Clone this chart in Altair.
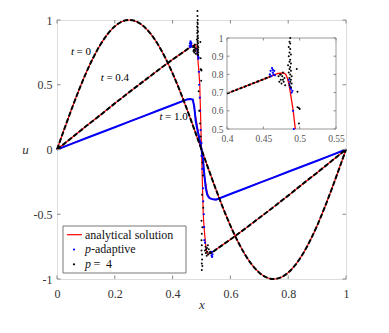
import altair as alt
import pandas as pd

FONT = "Liberation Serif, Times New Roman, serif"

# ---------------- data ----------------
# t = 0 (initial condition)
x_t0 = [0.0, 0.025, 0.05, 0.075, 0.1, 0.125, 0.15, 0.175, 0.2, 0.225, 0.25, 0.275, 0.3, 0.325,
        0.35, 0.375, 0.4, 0.425, 0.45, 0.475, 0.5, 0.525, 0.55, 0.575, 0.6, 0.625, 0.65, 0.675,
        0.7, 0.725, 0.75, 0.775, 0.8, 0.825, 0.85, 0.875, 0.9, 0.925, 0.95, 0.975, 1.0]
u_t0 = [0.0, 0.156, 0.309, 0.454, 0.588, 0.707, 0.809, 0.891, 0.951, 0.988, 1.0, 0.988, 0.951,
        0.891, 0.809, 0.707, 0.588, 0.454, 0.309, 0.156, 0.0, -0.156, -0.309, -0.454, -0.588,
        -0.707, -0.809, -0.891, -0.951, -0.988, -1.0, -0.988, -0.951, -0.891, -0.809, -0.707,
        -0.588, -0.454, -0.309, -0.156, 0.0]

# t = 0.4 analytical
x_t04 = [0.0, 0.05, 0.1, 0.15, 0.2, 0.25, 0.3, 0.35, 0.4, 0.45,
         0.47, 0.478, 0.481, 0.483, 0.485, 0.487, 0.489, 0.491, 0.494,
         0.5,
         0.506, 0.509, 0.511, 0.513, 0.515, 0.517, 0.519, 0.522, 0.53,
         0.55, 0.6, 0.65, 0.7, 0.75, 0.8, 0.85, 0.9, 0.95, 1.0]
u_t04 = [0.0, 0.089, 0.179, 0.266, 0.356, 0.443, 0.528, 0.613, 0.695, 0.773,
         0.805, 0.808, 0.80, 0.78, 0.75, 0.705, 0.655, 0.604, 0.50,
         0.0,
         -0.50, -0.604, -0.655, -0.705, -0.75, -0.78, -0.80, -0.808, -0.805,
         -0.773, -0.695, -0.613, -0.528, -0.443, -0.356, -0.266, -0.179, -0.089, 0.0]

# t = 0.4, p = 4 smooth parts
x_p4_left = [0.0, 0.05, 0.1, 0.15, 0.2, 0.25, 0.3, 0.35, 0.4, 0.45, 0.46]
u_p4_left = [0.0, 0.089, 0.179, 0.266, 0.356, 0.443, 0.528, 0.613, 0.695, 0.773, 0.79]
x_p4_right = [0.54, 0.55, 0.6, 0.65, 0.7, 0.75, 0.8, 0.85, 0.9, 0.95, 1.0]
u_p4_right = [-0.79, -0.773, -0.695, -0.613, -0.528, -0.443, -0.356, -0.266, -0.179, -0.089, 0.0]

# t = 1.0 analytical
x_t10 = [0.0, 0.05, 0.1, 0.15, 0.2, 0.25, 0.3, 0.35, 0.4, 0.45,
         0.46, 0.47, 0.48, 0.49, 0.5, 0.51, 0.52, 0.53, 0.54,
         0.55, 0.6, 0.65, 0.7, 0.75, 0.8, 0.85, 0.9, 0.95, 1.0]
u_t10 = [0.0, 0.043, 0.087, 0.129, 0.172, 0.215, 0.258, 0.301, 0.344, 0.387,
         0.39, 0.385, 0.25, 0.12, 0.0, -0.2, -0.34, -0.378, -0.385,
         -0.387, -0.344, -0.301, -0.258, -0.215, -0.172, -0.129, -0.087, -0.043, 0.0]

# t = 1.0, p-adaptive
x_pa10 = [0.0, 0.05, 0.1, 0.15, 0.2, 0.25, 0.3, 0.35, 0.4, 0.45,
          0.46, 0.47, 0.475, 0.48, 0.485, 0.49, 0.495, 0.5, 0.505, 0.51, 0.515, 0.52, 0.525, 0.53, 0.54,
          0.55, 0.6, 0.65, 0.7, 0.75, 0.8, 0.85, 0.9, 0.95, 1.0]
u_pa10 = [0.0, 0.043, 0.087, 0.129, 0.172, 0.215, 0.258, 0.301, 0.344, 0.387,
          0.39, 0.385, 0.33, 0.22, 0.16, 0.11, 0.06, 0.0, -0.07, -0.2, -0.3, -0.35, -0.37, -0.378, -0.385,
          -0.387, -0.344, -0.301, -0.258, -0.215, -0.172, -0.129, -0.087, -0.043, 0.0]

# scattered points near the t = 0.4 shock, p = 4
black_x = [0.471, 0.472, 0.473, 0.474, 0.475, 0.476, 0.477, 0.478, 0.479, 0.480, 0.474, 0.477,
           0.486, 0.486, 0.487, 0.486, 0.487, 0.485, 0.487, 0.486, 0.488, 0.485, 0.487, 0.486, 0.488,
           0.484, 0.487, 0.486, 0.488, 0.485, 0.487, 0.489, 0.486, 0.488, 0.487, 0.489, 0.486, 0.488,
           0.496, 0.497, 0.497, 0.499, 0.500, 0.499,
           0.490, 0.492, 0.495, 0.497, 0.500, 0.503, 0.505, 0.502, 0.506, 0.500, 0.503, 0.501, 0.502,
           0.503, 0.501, 0.500, 0.501, 0.500, 0.502, 0.501,
           0.512, 0.514, 0.515, 0.516, 0.518, 0.519, 0.520, 0.522, 0.523, 0.525, 0.527, 0.530, 0.533]
black_u = [0.79, 0.76, 0.80, 0.77, 0.75, 0.79, 0.81, 0.76, 0.78, 0.74, 0.80, 0.77,
           1.07, 1.03, 1.00, 0.98, 0.97, 0.95, 0.94, 0.92, 0.91, 0.90, 0.88, 0.87, 0.86,
           0.85, 0.84, 0.83, 0.82, 0.81, 0.80, 0.79, 0.78, 0.77, 0.76, 0.75, 0.74, 0.73,
           0.83, 0.705, 0.62, 0.615, 0.61, 0.53,
           0.45, 0.30, 0.20, 0.10, 0.0, -0.10, -0.20, -0.35, -0.45, -0.55, -0.60, -0.65, -0.85,
           -0.90, -0.93, -0.70, -0.74, -0.78, -0.81, -0.88,
           -0.78, -0.75, -0.80, -0.77, -0.82, -0.76, -0.79, -0.74, -0.81, -0.77, -0.80, -0.79, -0.80]

# scattered points near the t = 0.4 shock, p-adaptive
blue_x = [0.459, 0.460, 0.461, 0.462, 0.463, 0.464, 0.465, 0.466, 0.463,
          0.485, 0.486, 0.488, 0.489, 0.487, 0.490,
          0.491, 0.492, 0.494, 0.495, 0.497, 0.500, 0.500, 0.503, 0.505, 0.506, 0.508, 0.509,
          0.510, 0.512,
          0.534, 0.535, 0.536, 0.537, 0.538]
blue_u = [0.80, 0.82, 0.79, 0.835, 0.81, 0.80, 0.82, 0.795, 0.825,
          0.77, 0.75, 0.72, 0.70, 0.73, 0.71,
          0.60, 0.50, 0.40, 0.30, 0.15, 0.05, -0.05, -0.15, -0.30, -0.40, -0.50, -0.60,
          -0.70, -0.72,
          -0.80, -0.82, -0.79, -0.83, -0.81]

main_xdomain = [0, 1]
main_ydomain = [-1, 1]
main_xticks = [0, 0.2, 0.4, 0.6, 0.8, 1]
main_yticks = [-1, -0.5, 0, 0.5, 1]
inset_xdomain = [0.4, 0.55]
inset_ydomain = [0.5, 1]
inset_xticks = [0.4, 0.45, 0.5, 0.55]
inset_yticks = [0.5, 0.6, 0.7, 0.8, 0.9, 1]

ann_x = [0.0675, 0.171, 0.374]
ann_y = [0.753, 0.55, 0.249]
ann_rest = ["= 0", "= 0.4", "= 1.0"]

legend_text = ["analytical solution", "-adaptive", "=", "4"]

# ---------------- frames ----------------
df_t0 = pd.DataFrame({"x": x_t0, "u": u_t0})
df_t04 = pd.DataFrame({"x": x_t04, "u": u_t04})
df_p4 = pd.concat([
    pd.DataFrame({"x": x_p4_left, "u": u_p4_left, "part": "left"}),
    pd.DataFrame({"x": x_p4_right, "u": u_p4_right, "part": "right"}),
])
df_t10 = pd.DataFrame({"x": x_t10, "u": u_t10})
df_pa10 = pd.DataFrame({"x": x_pa10, "u": u_pa10})
df_bsc = pd.DataFrame({"x": black_x, "u": black_u})
df_usc = pd.DataFrame({"x": blue_x, "u": blue_u})
df_xt = pd.DataFrame({"v": main_xticks})
df_yt = pd.DataFrame({"v": main_yticks})
df_ixt = pd.DataFrame({"v": inset_xticks})
df_iyt = pd.DataFrame({"v": inset_yticks})
df_ann = pd.DataFrame({"x": ann_x, "u": ann_y, "rest": ann_rest, "t": ["t"] * 3})
df_box = pd.DataFrame({"x0": [inset_xdomain[0]], "x1": [inset_xdomain[1]],
                       "y0": [inset_ydomain[0]], "y1": [inset_ydomain[1]]})
df_one = pd.DataFrame({"a": [0]})

W, H = 289, 259
TICKC = "#888888"
LABC = "#333333"

# ---------------- main scales / axes ----------------
sx = alt.Scale(domain=main_xdomain, nice=False, zero=False)
sy = alt.Scale(domain=main_ydomain, nice=False, zero=False)
ax_x = alt.Axis(orient="bottom", values=main_xticks, labelExpr="toString(datum.value)",
                ticks=False, tickSize=0, domain=False, grid=False, labelPadding=9,
                labelFontSize=12, labelColor=LABC, labelFont=FONT, labelFlush=False,
                labelOverlap=False, title="x", titleFont=FONT, titleFontStyle="italic",
                titleFontWeight="normal", titleFontSize=13, titleColor=LABC,
                titleBaseline="middle", titleY=25)
ax_y = alt.Axis(orient="left", values=main_yticks, labelExpr="toString(datum.value)",
                ticks=False, tickSize=0, domain=False, grid=False, labelPadding=5,
                labelFontSize=12, labelColor=LABC, labelFont=FONT, labelFlush=False,
                labelOverlap=False, title="u", titleFont=FONT, titleFontStyle="italic",
                titleFontWeight="normal", titleFontSize=13, titleColor=LABC, titleAngle=0,
                titleX=-32, titleY=129.5, titleAlign="center", titleBaseline="middle")


def MX(f):
    return alt.X(f + ":Q", scale=sx, axis=ax_x)


def MY(f):
    return alt.Y(f + ":Q", scale=sy, axis=ax_y)


red0 = alt.Chart(df_t0).mark_line(color="#ff0000", strokeWidth=1.2, interpolate="monotone").encode(
    x=MX("x"), y=MY("u"))
red04 = alt.Chart(df_t04).mark_line(color="#ff0000", strokeWidth=1.2).encode(x=MX("x"), y=MY("u"))
red10 = alt.Chart(df_t10).mark_line(color="#ff0000", strokeWidth=1.2).encode(x=MX("x"), y=MY("u"))
blue10 = alt.Chart(df_pa10).mark_line(color="#0000ff", strokeWidth=2).encode(x=MX("x"), y=MY("u"))
black0 = alt.Chart(df_t0).mark_line(color="black", strokeWidth=2, strokeDash=[5, 2],
                                    interpolate="monotone").encode(x=MX("x"), y=MY("u"))
black04 = alt.Chart(df_p4).mark_line(color="black", strokeWidth=2, strokeDash=[5, 2]).encode(
    x=MX("x"), y=MY("u"), detail="part:N")
blue_sc = alt.Chart(df_usc).mark_circle(color="#0000ff", size=5, opacity=1).encode(x=MX("x"), y=MY("u"))
black_sc = alt.Chart(df_bsc).mark_circle(color="black", size=4, opacity=1).encode(x=MX("x"), y=MY("u"))

tick_bot = alt.Chart(df_xt).mark_rule(color=TICKC).encode(x=MX("v"), y=alt.value(H), y2=alt.value(H - 3.5))
tick_top = alt.Chart(df_xt).mark_rule(color=TICKC).encode(x=MX("v"), y=alt.value(0), y2=alt.value(3.5))
tick_left = alt.Chart(df_yt).mark_rule(color=TICKC).encode(y=MY("v"), x=alt.value(0), x2=alt.value(3.5))
tick_right = alt.Chart(df_yt).mark_rule(color=TICKC).encode(y=MY("v"), x=alt.value(W), x2=alt.value(W - 3.5))

ann_t = alt.Chart(df_ann).mark_text(font=FONT, fontSize=11, fontStyle="italic", align="right",
                                    baseline="middle", dx=-2.5, color="black").encode(
    x=MX("x"), y=MY("u"), text="t:N")
ann_r = alt.Chart(df_ann).mark_text(font=FONT, fontSize=11, align="left", baseline="middle",
                                    color="black").encode(x=MX("x"), y=MY("u"), text="rest:N")

# legend (drawn in the plot's pixel space)
leg_box = alt.Chart(df_one).mark_rect(fill="white", stroke="#777777", strokeWidth=1).encode(
    x=alt.value(6), x2=alt.value(129), y=alt.value(206), y2=alt.value(253))
leg_line = alt.Chart(df_one).mark_rule(color="#ff0000", strokeWidth=1.2).encode(
    x=alt.value(10), x2=alt.value(25), y=alt.value(214.7))
leg_dot_b = alt.Chart(df_one).mark_circle(color="#0000ff", size=5, opacity=1).encode(
    x=alt.value(17), y=alt.value(229.5))
leg_dot_k = alt.Chart(df_one).mark_circle(color="black", size=5, opacity=1).encode(
    x=alt.value(17), y=alt.value(244.3))


def legtext(s, x, y, italic=False):
    kw = dict(font=FONT, fontSize=12, align="left", baseline="middle", color="#111111")
    if italic:
        kw["fontStyle"] = "italic"
    return alt.Chart(df_one).mark_text(**kw).encode(x=alt.value(x), y=alt.value(y), text=alt.value(s))


leg_t1 = legtext(legend_text[0], 28, 214.7)
leg_t2p = legtext("p", 28, 229, italic=True)
leg_t2 = legtext(legend_text[1], 34, 229)
leg_t3p = legtext("p", 28, 244.3, italic=True)
leg_t3e = legtext(legend_text[2], 36.5, 244.3)
leg_t3n = legtext(legend_text[3], 49, 244.3)

main = alt.layer(
    red0, red04, red10, blue10, black0, black04, blue_sc, black_sc,
    tick_bot, tick_top, tick_left, tick_right, ann_t, ann_r,
    leg_box, leg_line, leg_dot_b, leg_dot_k, leg_t1, leg_t2p, leg_t2, leg_t3p, leg_t3e, leg_t3n,
)

# ---------------- inset ----------------
IX0, IX1, IY0, IY1 = 170, 279, 109, 18
isx = alt.Scale(domain=inset_xdomain, range=[IX0, IX1], nice=False, zero=False)
isy = alt.Scale(domain=inset_ydomain, range=[IY0, IY1], nice=False, zero=False)
iax_x = alt.Axis(orient="bottom", offset=-(H - IY0), values=inset_xticks,
                 labelExpr="toString(datum.value)", ticks=False, tickSize=0, domain=False,
                 grid=False, labelPadding=4, labelFontSize=9.5, labelColor="#555555",
                 labelFont=FONT, labelFlush=False, labelOverlap=False, title="")
iax_y = alt.Axis(orient="left", offset=-IX0, values=inset_yticks,
                 labelExpr="toString(datum.value)", ticks=False, tickSize=0, domain=False,
                 grid=False, labelPadding=4, labelFontSize=9.5, labelColor="#555555",
                 labelFont=FONT, labelFlush=False, labelOverlap=False, title="")


def IX(f):
    return alt.X(f + ":Q", scale=isx, axis=iax_x)


def IY(f):
    return alt.Y(f + ":Q", scale=isy, axis=iax_y)


inside = (f"datum.x >= {inset_xdomain[0]} && datum.x <= {inset_xdomain[1]} && "
          f"datum.u >= {inset_ydomain[0]} && datum.u <= {inset_ydomain[1]}")

ibox = alt.Chart(df_box).mark_rect(fill="white", stroke="#999999", strokeWidth=1).encode(
    x=IX("x0"), x2="x1", y=IY("y0"), y2="y1")
ired = alt.Chart(df_t04).transform_filter(inside).mark_line(color="#ff0000", strokeWidth=1.3).encode(
    x=IX("x"), y=IY("u"))
iblack = alt.Chart(df_p4).transform_filter(inside).mark_line(
    color="black", strokeWidth=2, strokeDash=[3, 1.5]).encode(x=IX("x"), y=IY("u"), detail="part:N")
iblue_sc = alt.Chart(df_usc).transform_filter(inside).mark_circle(color="#0000ff", size=5, opacity=1).encode(
    x=IX("x"), y=IY("u"))
iblack_sc = alt.Chart(df_bsc).transform_filter(inside).mark_circle(color="black", size=4, opacity=1).encode(
    x=IX("x"), y=IY("u"))
itick_bot = alt.Chart(df_ixt).mark_rule(color=TICKC).encode(x=IX("v"), y=alt.value(IY0), y2=alt.value(IY0 - 2.5))
itick_top = alt.Chart(df_ixt).mark_rule(color=TICKC).encode(x=IX("v"), y=alt.value(IY1), y2=alt.value(IY1 + 2.5))
itick_left = alt.Chart(df_iyt).mark_rule(color=TICKC).encode(y=IY("v"), x=alt.value(IX0), x2=alt.value(IX0 + 2.5))
itick_right = alt.Chart(df_iyt).mark_rule(color=TICKC).encode(y=IY("v"), x=alt.value(IX1), x2=alt.value(IX1 - 2.5))

inset = alt.layer(ibox, ired, iblack, iblue_sc, iblack_sc, itick_bot, itick_top, itick_left, itick_right)

chart = alt.layer(main, inset).resolve_scale(x="independent", y="independent").properties(
    width=W, height=H,
    autosize=alt.AutoSizeParams(type="none"),
    padding={"left": 49, "top": 12, "right": 20, "bottom": 40},
).configure_view(stroke="#888888", strokeWidth=1).configure(font=FONT)

chart.save("out.html", embed_options={"renderer": "svg", "actions": False})
